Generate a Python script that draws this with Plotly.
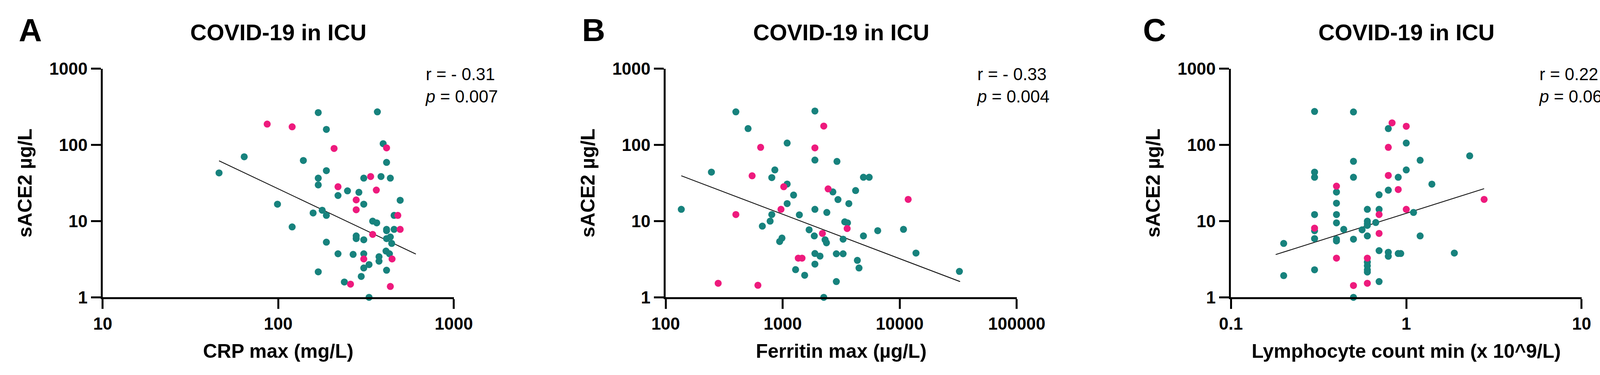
import plotly.graph_objects as go

# Panel A: CRP max vs sACE2
crp_teal_x = [46, 64, 169, 188, 99, 139, 120, 188, 169, 169, 219, 248, 288, 307, 158, 178, 188, 188, 169,
              219, 267, 238, 297, 329, 307, 329, 307, 307, 278, 278, 345, 364, 375, 375, 411, 430, 414, 414,
              435, 443, 414, 414, 457, 457, 495, 307, 385, 435, 414, 396, 367]
crp_teal_y = [43, 70, 266, 160, 16.7, 62.5, 8.4, 46, 36.7, 29.9, 21.7, 25, 23.9, 16.7, 12.8, 13.9, 11.9, 5.3,
              2.16, 3.73, 3.66, 1.59, 1.88, 1.0, 2.43, 2.69, 3.73, 5.7, 5.9, 6.4, 10, 9.5, 3.41, 2.98, 4.05,
              3.73, 2.27, 5.9, 6.2, 5.1, 7.5, 7.8, 7.8, 11.9, 18.8, 36.7, 38.5, 36.7, 59, 104, 272]
crp_pink_x = [86.5, 120, 208, 219, 278, 278, 258, 307, 345, 445, 435, 495, 480, 336, 362, 414]
crp_pink_y = [188, 173, 90, 28.3, 19, 14.1, 1.49, 3.19, 6.7, 3.19, 1.39, 7.8, 11.9, 38.5, 25.6, 91.6]
crp_fit_x = [46, 608]
crp_fit_y = [62, 3.7]

# Panel B: Ferritin max vs sACE2
fer_teal_x = [136, 246, 398, 506, 670, 781, 807, 807, 857, 942, 986, 1092, 1092, 1092, 1239, 1388, 1289,
              1541, 1682, 1885, 1885, 1885, 1862, 1885, 1885, 2084, 2244, 2303, 2366, 2383, 2685, 2968,
              2909, 2873, 2873, 3283, 3283, 3390, 3580, 3675, 4198, 4345, 4490, 4898, 4898, 5483, 6486,
              10770, 13770, 32360]
fer_teal_y = [14.3, 44, 272, 164, 8.6, 10, 12.2, 37.3, 47, 5.4, 6.0, 30.7, 106, 17, 22, 12.1, 2.31, 1.95,
              7.7, 279, 63.4, 14.3, 6.4, 3.76, 2.73, 3.48, 1.0, 5.7, 5.2, 13, 24.2, 19.2, 60.8, 1.61, 3.73,
              3.73, 5.8, 9.8, 9.5, 17, 25.2, 3.06, 2.43, 6.4, 37.7, 37.7, 7.5, 7.8, 3.81, 2.19]
fer_pink_x = [281, 398, 548, 614, 648, 967, 1021, 1359, 1463, 1885, 2184, 2244, 2445, 3555, 11810]
fer_pink_y = [1.53, 12.2, 39.4, 1.44, 93, 14.3, 28.3, 3.27, 3.27, 91.6, 6.9, 177, 26.5, 8.0, 19.3]
fer_fit_x = [136, 32800]
fer_fit_y = [39.4, 1.61]

# Panel C: Lymphocyte count min vs sACE2
lym_teal_x = [0.2, 0.2, 0.3, 0.3, 0.3, 0.3, 0.3, 0.3, 0.3, 0.4, 0.4, 0.4, 0.4, 0.4, 0.4, 0.44, 0.5, 0.5,
              0.5, 0.5, 0.5, 0.56, 0.6, 0.6, 0.6, 0.6, 0.6, 0.6, 0.6, 0.6, 0.6, 0.67, 0.7, 0.7, 0.7, 0.7,
              0.79, 0.79, 0.79, 0.79, 0.9, 0.9, 0.93, 1.0, 1.0, 1.1, 1.2, 1.2, 1.4, 1.88, 2.3]
lym_teal_y = [5.1, 1.93, 275, 44, 37.7, 12.2, 7.5, 5.9, 2.3, 24.1, 17.2, 12.2, 9.5, 5.8, 5.5, 7.8, 271, 61,
              37.7, 5.8, 1.0, 7.7, 14.3, 10, 9.3, 8.8, 6.4, 2.9, 2.6, 2.3, 2.15, 9.6, 22.2, 14.3, 4.1, 1.61,
              164, 25.5, 3.9, 3.46, 37.7, 3.76, 3.76, 106, 47, 13, 63, 6.4, 30.6, 3.81, 72]
lym_pink_x = [0.3, 0.4, 0.4, 0.5, 0.6, 0.6, 0.7, 0.7, 0.83, 0.79, 0.79, 0.9, 1.0, 1.0, 2.78]
lym_pink_y = [8.1, 28.8, 3.27, 1.43, 3.27, 1.53, 12.2, 6.9, 195, 93, 39.8, 26, 176, 14.3, 19.3]
lym_fit_x = [0.18, 2.78]
lym_fit_y = [3.64, 26.7]

panel_letters = ["A", "B", "C"]
x_titles = ["CRP max (mg/L)", "Ferritin max (µg/L)", "Lymphocyte count min (x 10^9/L)"]
x_ticks = [[10, 100, 1000], [100, 1000, 10000, 100000], [0.1, 1, 10]]
x_ticktext = [["10", "100", "1000"], ["100", "1000", "10000", "100000"], ["0.1", "1", "10"]]
y_ticks = [1, 10, 100, 1000]
stats_r = ["r = - 0.31", "r = - 0.33", "r = 0.22"]
stats_p = ["0.007", "0.004", "0.06"]

TEAL = "#17827d"
PINK = "#ee1a7d"
FONT = "Liberation Sans"
W, H = 4193, 959

panels = [
    (crp_teal_x, crp_teal_y, crp_pink_x, crp_pink_y, crp_fit_x, crp_fit_y),
    (fer_teal_x, fer_teal_y, fer_pink_x, fer_pink_y, fer_fit_x, fer_fit_y),
    (lym_teal_x, lym_teal_y, lym_pink_x, lym_pink_y, lym_fit_x, lym_fit_y),
]
x_px = [(232, 1155), (1712, 2635), (3198, 4120)]
x_ranges = [[1, 3], [2, 5], [-1, 1]]
y_dom = [1 - 775 / H, 1 - 159 / H]
letter_px = [9, 1490, 2965]
stats_px = [1077, 2527, 4005]

fig = go.Figure()
for i, (tx, ty, px, py, fx, fy) in enumerate(panels):
    xa = "x" if i == 0 else f"x{i+1}"
    ya = "y" if i == 0 else f"y{i+1}"
    fig.add_trace(go.Scatter(x=fx, y=fy, mode="lines", xaxis=xa, yaxis=ya,
                             line=dict(color="#111111", width=2.2), showlegend=False))
    fig.add_trace(go.Scatter(x=tx, y=ty, mode="markers", xaxis=xa, yaxis=ya, cliponaxis=False,
                             marker=dict(color=TEAL, size=18), showlegend=False))
    fig.add_trace(go.Scatter(x=px, y=py, mode="markers", xaxis=xa, yaxis=ya, cliponaxis=False,
                             marker=dict(color=PINK, size=18), showlegend=False))

    axis_common = dict(type="log", showgrid=False, zeroline=False, showline=True, linecolor="black",
                       linewidth=5, ticks="outside", ticklen=25, tickwidth=5, tickcolor="black",
                       tickfont=dict(family=FONT, size=44, color="black", weight="bold"))
    x0, x1 = x_px[i]
    fig.layout[("xaxis" if i == 0 else f"xaxis{i+1}")] = dict(
        axis_common, domain=[x0 / W, x1 / W], range=x_ranges[i], anchor=ya,
        tickvals=x_ticks[i], ticktext=x_ticktext[i],
        title=dict(text=f"<b>{x_titles[i]}</b>", font=dict(family=FONT, size=50, color="black"), standoff=30))
    fig.layout[("yaxis" if i == 0 else f"yaxis{i+1}")] = dict(
        axis_common, domain=y_dom, range=[0, 3], anchor=xa,
        tickvals=y_ticks, ticktext=[str(v) for v in y_ticks],
        title=dict(text="<b>sACE2 µg/L</b>", font=dict(family=FONT, size=50, color="black"), standoff=30))

    fig.add_annotation(text=f"<b>{panel_letters[i]}</b>", xref="paper", yref="paper",
                       x=letter_px[i] / W, y=1 - 4 / H, xanchor="left", yanchor="top", showarrow=False,
                       font=dict(family=FONT, size=82, color="black"))
    fig.add_annotation(text="<b>COVID-19 in ICU</b>", xref="paper", yref="paper",
                       x=(x0 + x1) / 2 / W, y=1 - 61 / H, xanchor="center", yanchor="middle", showarrow=False,
                       font=dict(family=FONT, size=58, color="black"))
    fig.add_annotation(text=f"{stats_r[i]}<br><i>p</i> = {stats_p[i]}", xref="paper", yref="paper",
                       x=stats_px[i] / W, y=1 - 145 / H, xanchor="left", yanchor="top", align="left",
                       showarrow=False, font=dict(family=FONT, size=44, color="black"))

fig.update_layout(width=W, height=H, margin=dict(l=0, r=0, t=0, b=0),
                  plot_bgcolor="white", paper_bgcolor="white", showlegend=False)

# drop the browser's default page margin so the figure fills the window exactly
fig.write_html("out.html", config={"displayModeBar": False},
               post_script="document.body.style.margin='0';document.body.style.overflow='hidden';")
